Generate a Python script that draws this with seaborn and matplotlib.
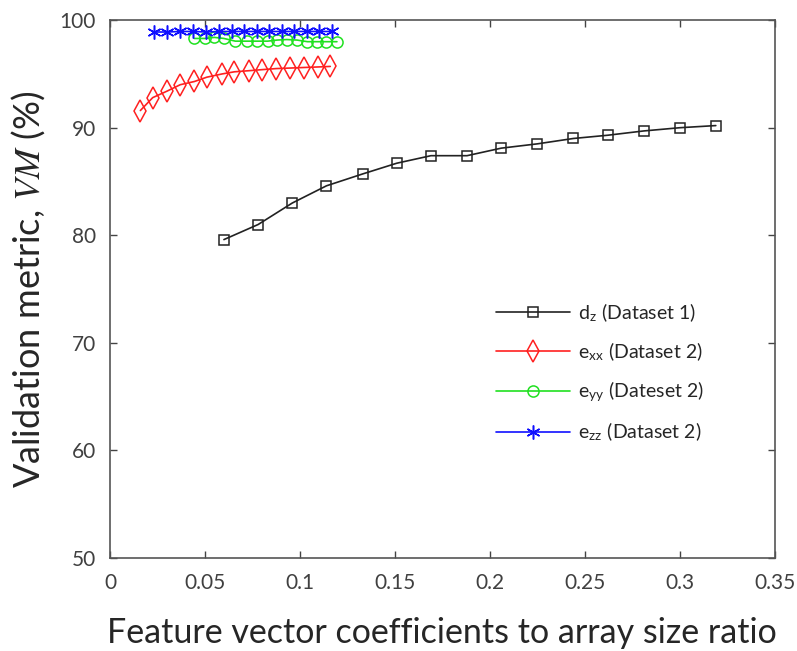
import matplotlib
matplotlib.use("Agg")
import matplotlib.pyplot as plt
import seaborn as sns
import pandas as pd

# ---- data ----
dz_x = [0.060, 0.078, 0.096, 0.114, 0.133, 0.151, 0.169, 0.188, 0.206, 0.225, 0.244, 0.262, 0.281, 0.300, 0.319]
dz_y = [79.6, 81.0, 83.0, 84.6, 85.7, 86.7, 87.4, 87.4, 88.1, 88.5, 89.0, 89.3, 89.7, 90.0, 90.2]

exx_x = [0.016, 0.0225, 0.030, 0.037, 0.0445, 0.051, 0.059, 0.0655, 0.073, 0.080, 0.0875, 0.095, 0.102, 0.1095, 0.116]
exx_y = [91.6, 92.8, 93.4, 94.0, 94.3, 94.7, 95.0, 95.2, 95.3, 95.4, 95.5, 95.55, 95.6, 95.65, 95.7]

eyy_x = [0.0445, 0.050, 0.055, 0.060, 0.066, 0.072, 0.0775, 0.083, 0.088, 0.093, 0.0985, 0.104, 0.109, 0.114, 0.1195]
eyy_y = [98.3, 98.3, 98.4, 98.3, 98.05, 98.05, 98.05, 98.05, 98.15, 98.2, 98.15, 98.0, 98.0, 98.0, 98.0]

ezz_x = [0.023, 0.030, 0.037, 0.0437, 0.0507, 0.0573, 0.0643, 0.0707, 0.0776, 0.0838, 0.0905, 0.097, 0.1038, 0.110, 0.1167]
ezz_y = [98.9, 98.9, 98.95, 98.95, 98.9, 98.95, 98.95, 98.95, 98.95, 98.95, 98.95, 98.95, 98.95, 98.95, 98.95]

labels = [r"d$_{\mathregular{z}}$ (Dataset 1)",
          r"e$_{\mathregular{xx}}$ (Dataset 2)",
          r"e$_{\mathregular{yy}}$ (Dateset 2)",
          r"e$_{\mathregular{zz}}$ (Dataset 2)"]
xticks = [0, 0.05, 0.1, 0.15, 0.2, 0.25, 0.3, 0.35]
xtick_labels = ["0", "0.05", "0.1", "0.15", "0.2", "0.25", "0.3", "0.35"]
yticks = [50, 60, 70, 80, 90, 100]

sns.set_style("ticks")
plt.rcParams["font.family"] = ["Lato", "DejaVu Sans"]
plt.rcParams["mathtext.fontset"] = "stix"

fig = plt.figure(figsize=(7.97, 6.51), dpi=100)
ax = fig.add_axes([0.138, 0.143, 0.834, 0.826])

series = [
    (dz_x, dz_y, "#222222", "s", 7, labels[0]),
    (exx_x, exx_y, "#ff2020", "d", 11, labels[1]),
    (eyy_x, eyy_y, "#20e020", "o", 8, labels[2]),
    (ezz_x, ezz_y, "#1010ff", (6, 2, 0), 10, labels[3]),
]
for xs, ys, c, m, ms, lab in series:
    df = pd.DataFrame({"x": xs, "y": ys})
    sns.lineplot(data=df, x="x", y="y", ax=ax, color=c, marker=m, markersize=ms,
                 markerfacecolor="none", markeredgecolor=c, markeredgewidth=1.1,
                 linewidth=1.2, label=lab, sort=False, estimator=None)

ax.set_xlim(0, 0.35)
ax.set_ylim(50, 100)
ax.set_xticks(xticks)
ax.set_xticklabels(xtick_labels)
ax.set_yticks(yticks)
ax.tick_params(direction="in", top=True, right=True, length=5, width=1,
               color="#444444", labelsize=15, labelcolor="#404040")
ax.tick_params(axis="x", pad=11)
ax.tick_params(axis="y", pad=10)
for s in ax.spines.values():
    s.set_visible(True)
    s.set_color("#555555")
    s.set_linewidth(1.2)

ax.set_xlabel("Feature vector coefficients to array size ratio", fontsize=24.5, labelpad=17)
ax.set_ylabel(r"Validation metric, $\mathit{VM}$ (%)", fontsize=26, labelpad=9)

leg = ax.legend(loc="upper left", bbox_to_anchor=(0.555, 0.51), frameon=False,
                fontsize=14, handlelength=3.8, labelspacing=0.85, numpoints=1,
                handletextpad=0.4)

fig.savefig("out.png", dpi=100)
